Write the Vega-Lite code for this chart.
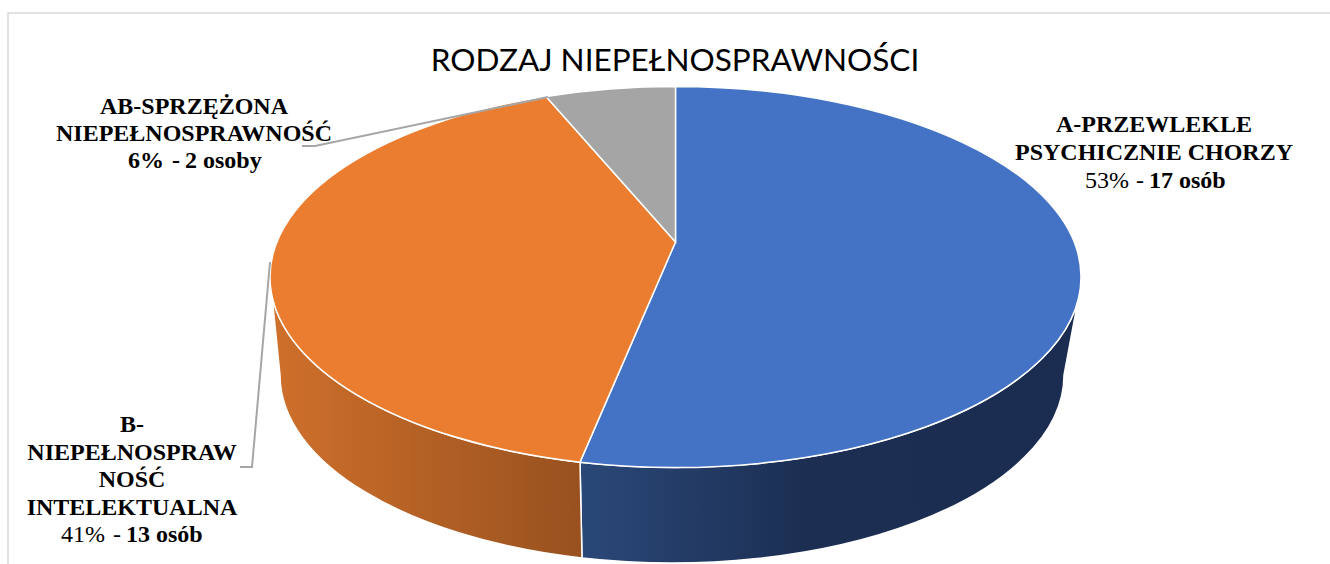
{"$schema":"https://vega.github.io/schema/vega-lite/v6.json","width":1330,"height":564,"padding":0,"autosize":{"type":"none"},"background":"white","view":{"stroke":null},
"title":{"text":"RODZAJ NIEPEŁNOSPRAWNOŚCI","font":"Lato","fontSize":31.5,"fontWeight":"normal","color":"#000000","anchor":"middle","dx":10,"dy":102,"offset":0,"baseline":"alphabetic"},
"data":{"values":[
{"slice":"A","name":"A-PRZEWLEKLE\nPSYCHICZNIE CHORZY","value":17,"share":"53%","persons":"17 osób"},
{"slice":"B","name":"B-\nNIEPEŁNOSPRAW\nNOŚĆ\nINTELEKTUALNA","value":13,"share":"41%","persons":"13 osób"},
{"slice":"AB","name":"AB-SPRZĘŻONA\nNIEPEŁNOSPRAWNOŚĆ","value":2,"share":"6%","persons":"2 osoby"}
]},
"layer":[
{"transform":[{"filter":"datum.slice==='A'"}],"mark":{"type":"point","shape":"M-657,282L-657,-269L665,-269","size":4,"filled":false,"fill":null,"stroke":"#d9d9d9","strokeWidth":1.5,"opacity":1}},
{"transform":[{"filter":"datum.slice==='A'"}],"mark":{"type":"point","filled":true,"opacity":1,"size":4,"stroke":"#ffffff","strokeWidth":1.5,"shape":"M413,18.1L399,93A392,188 0 0 1 -83,276L-85,180.14A405.5,190.5 0 0 0 413,18.1Z","fill":{"gradient":"linear","x1":0,"y1":0,"x2":1,"y2":0,"stops":[{"offset":0,"color":"#2a4878"},{"offset":0.45,"color":"#1c2f53"},{"offset":1,"color":"#1a2c4f"}]}}},
{"transform":[{"filter":"datum.slice==='B'"}],"mark":{"type":"point","filled":true,"opacity":1,"size":4,"stroke":"#ffffff","strokeWidth":1.5,"shape":"M-85,180.14L-83,276A392,188 0 0 1 -385,93L-393,13.9A405.5,190.5 0 0 0 -85,180.14Z","fill":{"gradient":"linear","x1":0,"y1":0,"x2":1,"y2":0,"stops":[{"offset":0,"color":"#cf702b"},{"offset":1,"color":"#98511f"}]}}},
{"mark":{"type":"point","filled":true,"opacity":1,"size":4,"stroke":"#ffffff","strokeWidth":1.5},
"encoding":{"shape":{"field":"slice","type":"nominal","legend":null,"scale":{"domain":["A","B","AB"],"range":["M10.5,-40L10.5,-195.5A405.5,190.5 0 0 1 416,-5A405.5,190.5 0 0 1 -85,180.14Z","M10.5,-40L-85,180.14A405.5,190.5 0 0 1 -395,-5A405.5,190.5 0 0 1 -119,-185.52Z","M10.5,-40L-119,-185.52A405.5,190.5 0 0 1 10.5,-195.5Z"]}},
"color":{"field":"slice","type":"nominal","legend":null,"scale":{"domain":["A","B","AB"],"range":["#4472c4","#eb7d30","#a5a5a5"]}}}},
{"transform":[{"filter":"datum.slice==='AB'"}],"mark":{"type":"point","shape":"M-363,-136L-350,-136L-117,-185","size":4,"filled":false,"fill":null,"stroke":"#a6a6a6","strokeWidth":2,"opacity":1}},
{"transform":[{"filter":"datum.slice==='B'"}],"mark":{"type":"point","shape":"M-395,-20L-413,185L-425,185","size":4,"filled":false,"fill":null,"stroke":"#a6a6a6","strokeWidth":2,"opacity":1}},
{"transform":[{"filter":"datum.slice==='A'"}],"mark":{"type":"text","font":"Liberation Serif","fontSize":24,"fontWeight":"bold","color":"#000000","align":"center","baseline":"alphabetic","lineBreak":"\n","lineHeight":28,"dx":489,"dy":-150},"encoding":{"text":{"field":"name"}}},
{"transform":[{"filter":"datum.slice==='A'"}],"mark":{"type":"text","font":"Liberation Serif","fontSize":24,"color":"#000000","align":"left","baseline":"alphabetic","dx":420,"dy":-94},"encoding":{"text":{"field":"share"}}},
{"transform":[{"filter":"datum.slice==='A'"}],"mark":{"type":"text","font":"Liberation Serif","fontSize":24,"color":"#000000","align":"left","baseline":"alphabetic","dx":471,"dy":-94,"text":"-"}},
{"transform":[{"filter":"datum.slice==='A'"}],"mark":{"type":"text","font":"Liberation Serif","fontSize":24,"fontWeight":"bold","color":"#000000","align":"left","baseline":"alphabetic","dx":484,"dy":-94},"encoding":{"text":{"field":"persons"}}},
{"transform":[{"filter":"datum.slice==='AB'"}],"mark":{"type":"text","font":"Liberation Serif","fontSize":24,"fontWeight":"bold","color":"#000000","align":"center","baseline":"alphabetic","lineBreak":"\n","lineHeight":27,"dx":-471,"dy":-168},"encoding":{"text":{"field":"name"}}},
{"transform":[{"filter":"datum.slice==='AB'"}],"mark":{"type":"text","font":"Liberation Serif","fontSize":24,"fontWeight":"bold","color":"#000000","align":"left","baseline":"alphabetic","dx":-537,"dy":-114},"encoding":{"text":{"field":"share"}}},
{"transform":[{"filter":"datum.slice==='AB'"}],"mark":{"type":"text","font":"Liberation Serif","fontSize":24,"fontWeight":"bold","color":"#000000","align":"left","baseline":"alphabetic","dx":-493,"dy":-114,"text":"-"}},
{"transform":[{"filter":"datum.slice==='AB'"}],"mark":{"type":"text","font":"Liberation Serif","fontSize":24,"fontWeight":"bold","color":"#000000","align":"left","baseline":"alphabetic","dx":-480,"dy":-114},"encoding":{"text":{"field":"persons"}}},
{"transform":[{"filter":"datum.slice==='B'"}],"mark":{"type":"text","font":"Liberation Serif","fontSize":24,"fontWeight":"bold","color":"#000000","align":"center","baseline":"alphabetic","lineBreak":"\n","lineHeight":27.7,"dx":-533,"dy":150},"encoding":{"text":{"field":"name"}}},
{"transform":[{"filter":"datum.slice==='B'"}],"mark":{"type":"text","font":"Liberation Serif","fontSize":24,"color":"#000000","align":"left","baseline":"alphabetic","dx":-604,"dy":260},"encoding":{"text":{"field":"share"}}},
{"transform":[{"filter":"datum.slice==='B'"}],"mark":{"type":"text","font":"Liberation Serif","fontSize":24,"color":"#000000","align":"left","baseline":"alphabetic","dx":-552,"dy":260,"text":"-"}},
{"transform":[{"filter":"datum.slice==='B'"}],"mark":{"type":"text","font":"Liberation Serif","fontSize":24,"fontWeight":"bold","color":"#000000","align":"left","baseline":"alphabetic","dx":-539,"dy":260},"encoding":{"text":{"field":"persons"}}}
]}
